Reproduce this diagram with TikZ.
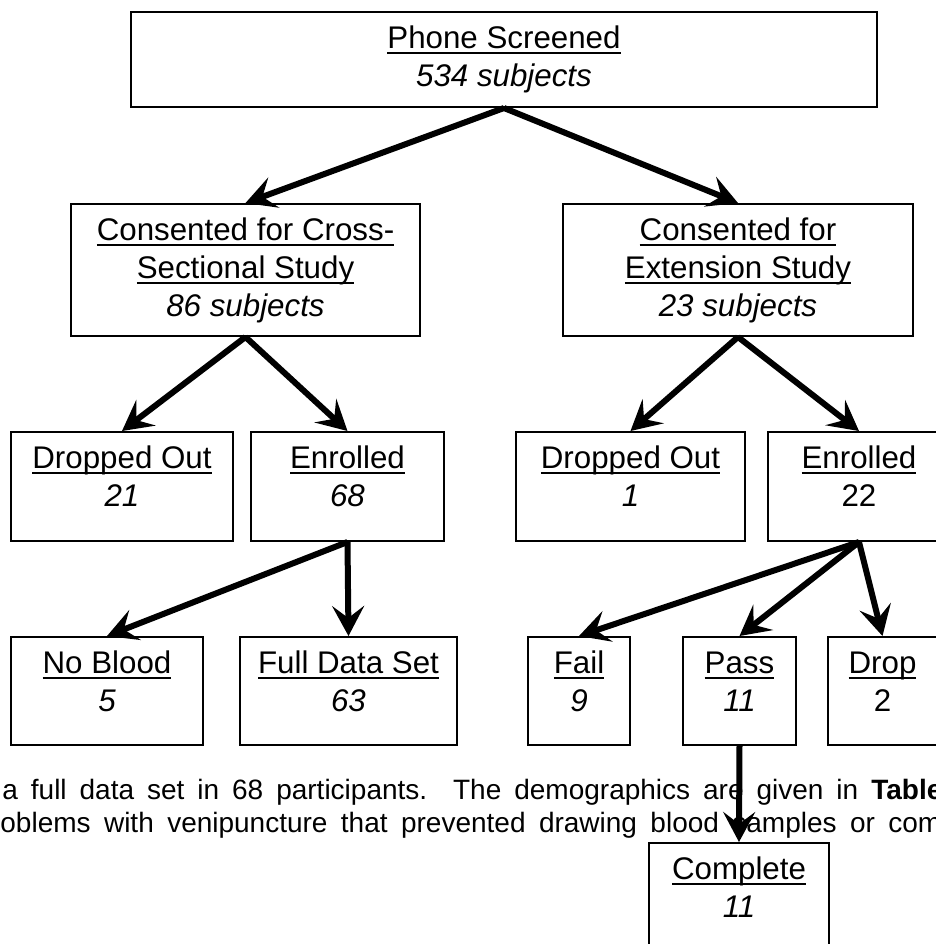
\documentclass[tikz,border=0pt]{standalone}
\usepackage{fontspec}
\setmainfont{Liberation Sans}
\usetikzlibrary{arrows.meta,fit}
\newcommand{\myul}[1]{\setbox0\hbox{#1}\rlap{\rule[-2.5pt]{\wd0}{1pt}}\box0}
\newcommand{\boxfont}{\fontsize{15.65pt}{19pt}\selectfont}
\newcommand{\bodyfont}{\fontsize{14pt}{16pt}\selectfont}
\newcommand{\fs}{\rule{0pt}{18.75pt}}
\begin{document}
\begin{tikzpicture}[x=0.5pt,y=-0.5pt,
  box/.style={draw, line width=1pt, fill=white, inner sep=0pt},
  lbl/.style={anchor=north, inner sep=0pt, align=center, font=\boxfont},
  body/.style={anchor=base west, inner sep=0pt, font=\bodyfont},
  arr/.style={-{Stealth[length=15pt,width=16pt,inset=6pt]}, line width=3pt}]
\path[fill=white] (0,0) rectangle (936,944);
\useasboundingbox (0,0) rectangle (936,944);

% background text lines
\node[body] (line1) at (2,799) {\makebox[470pt][s]{a full data set in 68 participants.\ \ The demographics are given in \textbf{Table}}};
\node[body] (line2) at (0,832) {\makebox[470.5pt][s]{oblems with venipuncture that prevented drawing blood samples or com}};

% boxes
\node[box, fit={(131,12) (877,107)}] (top) {};
\node[box, fit={(71,204) (420,336)}] (cL) {};
\node[box, fit={(563,204) (913,336)}] (cR) {};
\node[box, fit={(11,432) (233,541)}] (dL) {};
\node[box, fit={(251,432) (444,541)}] (eL) {};
\node[box, fit={(516,432) (745,541)}] (dR) {};
\node[box, fit={(768,432) (950,541)}] (eR) {};
\node[box, fit={(11,637) (203,745)}] (nb) {};
\node[box, fit={(240,637) (457,745)}] (fd) {};
\node[box, fit={(528,637) (630,745)}] (fail) {};
\node[box, fit={(683,637) (796,745)}] (pass) {};
\node[box, fit={(828,637) (937,745)}] (drop) {};
\node[box, fit={(649,843) (829,960)}] (comp) {};

% labels
\node[lbl] (topT) at (top.north) {\fs\myul{Phone Screened}\\\textit{534 subjects}};
\node[lbl] (cLT) at (cL.north) {\fs\myul{Consented for Cross-}\\\myul{Sectional Study}\\\textit{86 subjects}};
\node[lbl] (cRT) at (cR.north) {\fs\myul{Consented for}\\\myul{Extension Study}\\\textit{23 subjects}};
\node[lbl] (dLT) at (dL.north) {\fs\myul{Dropped Out}\\\textit{21}};
\node[lbl] (eLT) at (eL.north) {\fs\myul{Enrolled}\\\textit{68}};
\node[lbl] (dRT) at (dR.north) {\fs\myul{Dropped Out}\\\textit{1}};
\node[lbl] (eRT) at (eR.north) {\fs\myul{Enrolled}\\22};
\node[lbl] (nbT) at (nb.north) {\fs\myul{No Blood}\\\textit{5}};
\node[lbl] (fdT) at (fd.north) {\fs\myul{Full Data Set}\\\textit{63}};
\node[lbl] (failT) at (fail.north) {\fs\myul{Fail}\\\textit{9}};
\node[lbl] (passT) at (pass.north) {\fs\myul{Pass}\\\textit{11}};
\node[lbl] (dropT) at (drop.north) {\fs\myul{Drop}\\2};
\node[lbl] (compT) at (comp.north) {\fs\myul{Complete}\\\textit{11}};

% arrows
\draw[arr] (top.south) -- (cL.north);
\draw[arr] (top.south) -- (cR.north);
\draw[arr] (cL.south) -- (dL.north);
\draw[arr] (cL.south) -- (eL.north);
\draw[arr] (cR.south) -- (dR.north);
\draw[arr] (cR.south) -- (eR.north);
\draw[arr] (eL.south) -- (nb.north);
\draw[arr] (eL.south) -- (fd.north);
\draw[arr] (eR.south) -- (fail.north);
\draw[arr] (eR.south) -- (pass.north);
\draw[arr] (eR.south) -- (drop.north);
\draw[arr] (pass.south) -- (comp.north);
\end{tikzpicture}
\end{document}
